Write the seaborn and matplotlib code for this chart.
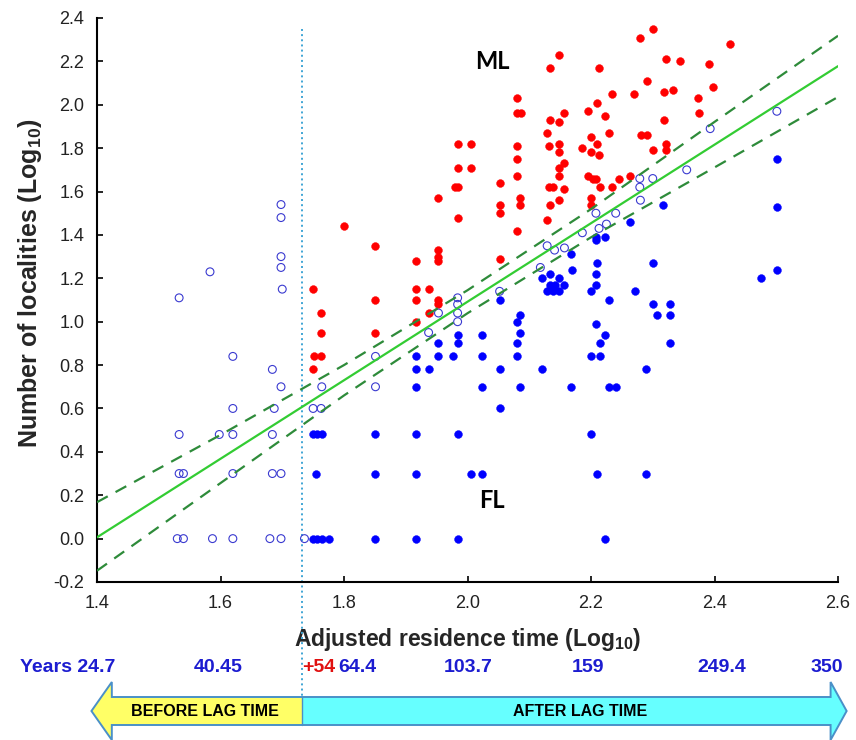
import matplotlib
matplotlib.use("Agg")
import matplotlib.pyplot as plt
from matplotlib.patches import Polygon
import seaborn as sns
import pandas as pd

# ---------------- data ----------------
# open circles (non-invasive / reference localities)
open_x = [1.698, 1.698, 1.698, 1.698, 1.700, 1.583, 1.533, 1.620, 1.684, 1.698,
          1.620, 1.687, 1.533, 1.598, 1.620, 1.684, 1.533, 1.540, 1.620, 1.684,
          1.698, 1.530, 1.540, 1.587, 1.620, 1.680, 1.698, 1.736,
          1.750, 1.763, 1.764, 1.851, 1.851, 1.937, 1.953, 1.984, 1.984, 1.984,
          1.984, 2.052, 2.118, 2.129, 2.141, 2.157, 2.186, 2.208, 2.213, 2.225,
          2.240, 2.279, 2.300, 2.279, 2.280, 2.355, 2.393, 2.501]
open_y = [1.54, 1.48, 1.30, 1.25, 1.15, 1.23, 1.11, 0.84, 0.78, 0.70,
          0.60, 0.60, 0.48, 0.48, 0.48, 0.48, 0.30, 0.30, 0.30, 0.30,
          0.30, 0.00, 0.00, 0.00, 0.00, 0.00, 0.00, 0.00,
          0.60, 0.60, 0.70, 0.84, 0.70, 0.95, 1.04, 1.11, 1.08, 1.04,
          1.00, 1.14, 1.25, 1.35, 1.33, 1.34, 1.41, 1.50, 1.43, 1.45,
          1.50, 1.66, 1.66, 1.62, 1.56, 1.70, 1.89, 1.97]

# red filled circles (ML)
ml_x = [1.750, 1.762, 1.762, 1.752, 1.763, 1.750, 1.800, 1.851, 1.851, 1.851,
        1.916, 1.916, 1.916, 1.916, 1.937, 1.937, 1.952, 1.952, 1.952, 1.952,
        1.952, 1.952, 1.979, 1.985, 1.984, 1.984, 2.006, 1.984, 2.006, 2.052,
        2.052, 2.052, 2.052, 2.080, 2.085, 2.085, 2.080, 2.080, 2.087, 2.080,
        2.080, 2.080,
        2.300, 2.279, 2.148, 2.133, 2.213, 2.322, 2.344, 2.291, 2.234, 2.270,
        2.318, 2.332, 2.373, 2.210, 2.195, 2.157, 2.133, 2.148, 2.223, 2.319,
        2.375, 2.129, 2.200, 2.229, 2.281, 2.291, 2.132, 2.148, 2.186, 2.210,
        2.148, 2.200, 2.213, 2.300, 2.321, 2.321, 2.148, 2.157, 2.148, 2.195,
        2.203, 2.208, 2.245, 2.263, 2.214, 2.234, 2.132, 2.138, 2.157, 2.133,
        2.148, 2.200, 2.200, 2.129, 2.425, 2.391, 2.397]
ml_y = [1.15, 1.04, 0.95, 0.84, 0.84, 0.78, 1.44, 1.35, 1.10, 0.95,
        1.28, 1.15, 1.10, 1.00, 1.15, 1.04, 1.57, 1.33, 1.30, 1.28,
        1.10, 1.08, 1.62, 1.62, 1.48, 1.71, 1.71, 1.82, 1.82, 1.64,
        1.54, 1.50, 1.29, 1.42, 1.57, 1.54, 2.03, 1.96, 1.96, 1.81,
        1.75, 1.67,
        2.35, 2.31, 2.23, 2.17, 2.17, 2.21, 2.20, 2.11, 2.05, 2.05,
        2.06, 2.07, 2.03, 2.01, 1.97, 1.96, 1.93, 1.92, 1.95, 1.93,
        1.96, 1.87, 1.85, 1.87, 1.86, 1.86, 1.81, 1.82, 1.80, 1.82,
        1.78, 1.78, 1.77, 1.79, 1.82, 1.79, 1.71, 1.73, 1.67, 1.67,
        1.66, 1.66, 1.66, 1.67, 1.62, 1.62, 1.62, 1.62, 1.61, 1.54,
        1.56, 1.57, 1.54, 1.47, 2.28, 2.19, 2.08]

# blue filled circles (FL)
fl_x = [1.984, 1.984, 2.024, 1.953, 1.916, 1.953, 1.977, 2.024, 2.080, 1.916,
        1.937, 2.052, 1.916, 2.024, 2.085, 2.052, 2.080, 2.085, 2.085, 2.080,
        2.052,
        1.750, 1.757, 1.764, 1.851, 1.916, 1.984,
        1.754, 1.851, 1.916, 2.006, 2.024,
        1.750, 1.757, 1.764, 1.776, 1.851, 1.916, 1.984,
        2.121, 2.133, 2.148, 2.170, 2.208, 2.133, 2.141, 2.157, 2.208, 2.129,
        2.138, 2.148, 2.200, 2.229, 2.272, 2.300, 2.328, 2.307, 2.328, 2.208,
        2.223, 2.214, 2.328, 2.200, 2.214, 2.121, 2.289, 2.167, 2.229, 2.240,
        2.200, 2.210, 2.289, 2.223,
        2.317, 2.263, 2.208, 2.208, 2.223, 2.168, 2.210, 2.300,
        2.502, 2.502, 2.502, 2.475]
fl_y = [0.94, 0.90, 0.94, 0.90, 0.84, 0.84, 0.84, 0.84, 0.84, 0.78,
        0.78, 0.78, 0.70, 0.70, 0.70, 0.60, 0.90, 0.95, 1.03, 1.00,
        1.10,
        0.48, 0.48, 0.48, 0.48, 0.48, 0.48,
        0.30, 0.30, 0.30, 0.30, 0.30,
        0.00, 0.00, 0.00, 0.00, 0.00, 0.00, 0.00,
        1.20, 1.22, 1.20, 1.24, 1.22, 1.17, 1.17, 1.17, 1.17, 1.14,
        1.14, 1.14, 1.14, 1.10, 1.14, 1.08, 1.08, 1.03, 1.03, 0.99,
        0.94, 0.90, 0.90, 0.84, 0.84, 0.78, 0.78, 0.70, 0.70, 0.70,
        0.48, 0.30, 0.30, 0.00,
        1.54, 1.46, 1.39, 1.375, 1.39, 1.31, 1.27, 1.27,
        1.75, 1.53, 1.24, 1.20]

# regression line and its confidence limits
fit_x = [1.4, 1.6, 1.8, 2.0, 2.2, 2.4, 2.6]
fit_y = [0.006, 0.368, 0.730, 1.092, 1.454, 1.816, 2.178]
upper_y = [0.168, 0.478, 0.800, 1.145, 1.519, 1.921, 2.318]
lower_y = [-0.148, 0.256, 0.660, 1.039, 1.389, 1.711, 2.036]

lag_x = 1.732  # log10(54)

x_ticks = [1.4, 1.6, 1.8, 2.0, 2.2, 2.4, 2.6]
y_ticks = [-0.2, 0.0, 0.2, 0.4, 0.6, 0.8, 1.0, 1.2, 1.4, 1.6, 1.8, 2.0, 2.2, 2.4]

years_labels = ["Years 24.7", "40.45", "64.4", "103.7", "159", "249.4", "350"]
years_pos = [1.429, 1.596, 1.791, 2.001, 2.195, 2.412, 2.581]
years_ha = ["right", "center", "left", "center", "center", "center", "center"]

# ---------------- style ----------------
sns.set_style("ticks")
plt.rcParams["font.family"] = ["Liberation Sans", "DejaVu Sans"]
plt.rcParams["mathtext.fontset"] = "custom"
plt.rcParams["mathtext.rm"] = "Liberation Sans:bold"
plt.rcParams["mathtext.bf"] = "Liberation Sans:bold"
plt.rcParams["mathtext.it"] = "Liberation Sans:bold"

NARROW = ["Liberation Sans Narrow", "Liberation Sans", "DejaVu Sans"]

fig = plt.figure(figsize=(8.56, 7.40), dpi=100)
L, R, B, T = 97 / 856, 838 / 856, 1 - 582 / 740, 1 - 18 / 740
ax = fig.add_axes([L, B, R - L, T - B])

df_open = pd.DataFrame({"x": open_x, "y": open_y})
df_ml = pd.DataFrame({"x": ml_x, "y": ml_y})
df_fl = pd.DataFrame({"x": fl_x, "y": fl_y})

sns.scatterplot(data=df_ml, x="x", y="y", ax=ax, color="#ff0000", s=32,
                edgecolor="#ff0000", linewidth=0.3, zorder=3)
sns.scatterplot(data=df_fl, x="x", y="y", ax=ax, color="#0000ff", s=32,
                edgecolor="#0000ff", linewidth=0.3, zorder=3)
sns.scatterplot(data=df_open, x="x", y="y", ax=ax, s=32, facecolor="none",
                edgecolor="#3a3ad0", linewidth=0.8, zorder=4)

sns.lineplot(x=fit_x, y=fit_y, ax=ax, color="#33cc33", linewidth=1.6, zorder=5)
sns.lineplot(x=fit_x, y=upper_y, ax=ax, color="#2e8b3a", linewidth=1.6,
             linestyle=(0, (5.5, 4)), zorder=5)
sns.lineplot(x=fit_x, y=lower_y, ax=ax, color="#2e8b3a", linewidth=1.6,
             linestyle=(0, (5.5, 4)), zorder=5)

# lag-time dotted line (continues down into the annotation)
ax.plot([lag_x, lag_x], [2.35, -0.734], color="#3fa5d5", linestyle=":",
        linewidth=1.4, clip_on=False, zorder=2)

ax.set_xlim(1.4, 2.6)
ax.set_ylim(-0.2, 2.4)
ax.set_xticks(x_ticks)
ax.set_xticklabels([f"{v:.1f}" for v in x_ticks])
ax.set_yticks(y_ticks)
ax.set_yticklabels([f"{v:.1f}" for v in y_ticks])
ax.tick_params(direction="in", length=4, width=1.2, labelsize=13, pad=9,
               colors="black", labelcolor="#222222")
for side in ["top", "right"]:
    ax.spines[side].set_visible(False)
for side in ["left", "bottom"]:
    ax.spines[side].set_linewidth(1.5)
    ax.spines[side].set_color("black")

ax.set_xlabel(r"Adjusted residence time (Log$_{10}$)", fontsize=16.5,
              fontweight="bold", family=NARROW)
ax.set_ylabel(r"Number of localities (Log$_{10}$)", fontsize=18,
              fontweight="bold", family=NARROW)
ax.xaxis.set_label_coords(0.5, -0.078)
ax.yaxis.set_label_coords(-0.072, 0.53)

ax.text(2.04, 2.20, "ML", fontsize=17, fontweight="bold", family=["Lato", "DejaVu Sans"],
        ha="center", va="center", color="black")
ax.text(2.04, 0.175, "FL", fontsize=17, fontweight="bold", family=["Lato", "DejaVu Sans"],
        ha="center", va="center", color="black")

# ---------------- years row and lag-time arrow ----------------
ax2 = fig.add_axes([L, 0.0, R - L, 0.14])
ax2.set_xlim(1.4, 2.6)
ax2.set_ylim(740, 740 - 0.14 * 740)
ax2.axis("off")

for lab, xp, ha in zip(years_labels, years_pos, years_ha):
    ax2.text(xp, 668, lab, ha=ha, va="center", fontsize=14, fontweight="bold",
             color="#1c1cd0", family=NARROW, clip_on=False)
ax2.text(lag_x, 668, "+54", ha="left", va="center", fontsize=14,
         fontweight="bold", color="#e01010", family=NARROW, clip_on=False)

x_tip_l, x_base_l = 1.391, 1.424
x_base_r, x_tip_r = 2.588, 2.614
y_head_top, y_body_top, y_mid, y_body_bot, y_head_bot = 682, 697, 711, 725, 740

yellow = Polygon([(x_tip_l, y_mid), (x_base_l, y_head_top), (x_base_l, y_body_top),
                  (lag_x, y_body_top), (lag_x, y_body_bot), (x_base_l, y_body_bot),
                  (x_base_l, y_head_bot)], closed=True, facecolor="#ffff66",
                 edgecolor="none", clip_on=False)
cyan = Polygon([(lag_x, y_body_top), (x_base_r, y_body_top), (x_base_r, y_head_top),
                (x_tip_r, y_mid), (x_base_r, y_head_bot), (x_base_r, y_body_bot),
                (lag_x, y_body_bot)], closed=True, facecolor="#66ffff",
               edgecolor="none", clip_on=False)
outline = Polygon([(x_tip_l, y_mid), (x_base_l, y_head_top), (x_base_l, y_body_top),
                   (x_base_r, y_body_top), (x_base_r, y_head_top), (x_tip_r, y_mid),
                   (x_base_r, y_head_bot), (x_base_r, y_body_bot),
                   (x_base_l, y_body_bot), (x_base_l, y_head_bot)], closed=True,
                  facecolor="none", edgecolor="#4a90c8", linewidth=1.4, clip_on=False)
ax2.add_patch(yellow)
ax2.add_patch(cyan)
ax2.add_patch(outline)
ax2.plot([lag_x, lag_x], [y_body_top, y_body_bot], color="#4a90c8", linewidth=1.0,
         clip_on=False)

ax2.text(1.575, 712, "BEFORE LAG TIME", ha="center", va="center", fontsize=11.5,
         fontweight="bold", family=NARROW, color="black", clip_on=False)
ax2.text(2.183, 712, "AFTER LAG TIME", ha="center", va="center", fontsize=11.5,
         fontweight="bold", family=NARROW, color="black", clip_on=False)

fig.savefig("out.png", dpi=100)
